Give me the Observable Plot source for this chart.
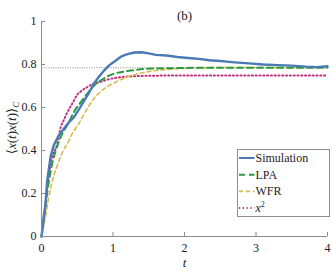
<!DOCTYPE html>
<html>
<head>
<meta charset="utf-8">
<script src="https://cdn.jsdelivr.net/npm/d3@7"></script>
<script src="https://cdn.jsdelivr.net/npm/@observablehq/plot@0.6"></script>
<style>
  html, body { margin: 0; padding: 0; background: #fff; }
  #chart svg { display: block; }
</style>
</head>
<body>
<div id="chart"></div>
<script>
// ---- data ----
const title = "(b)";
const xTicks = [0, 1, 2, 3, 4];
const yTicks = [0, 0.2, 0.4, 0.6, 0.8, 1];
const refLevel = 0.785;

const simT = [0, 0.03, 0.056, 0.08, 0.126, 0.17, 0.24, 0.3, 0.38, 0.455, 0.53, 0.6, 0.67, 0.73, 0.8, 0.87, 0.95, 1.04, 1.12, 1.2, 1.3, 1.4, 1.5, 1.6, 1.75, 1.9, 2.05, 2.2, 2.35, 2.5, 2.7, 2.9, 3.1, 3.3, 3.5, 3.7, 3.85, 4.0];
const simV = [0, 0.09, 0.152, 0.26, 0.369, 0.423, 0.47, 0.495, 0.53, 0.555, 0.595, 0.633, 0.672, 0.71, 0.742, 0.77, 0.797, 0.819, 0.838, 0.848, 0.856, 0.857, 0.852, 0.845, 0.842, 0.835, 0.83, 0.826, 0.82, 0.816, 0.81, 0.805, 0.8, 0.797, 0.795, 0.79, 0.788, 0.792];

const lpaT = [0, 0.05, 0.1, 0.15, 0.2, 0.265, 0.38, 0.455, 0.55, 0.64, 0.73, 0.83, 0.92, 1.01, 1.11, 1.25, 1.47, 1.7, 2.0, 2.5, 3, 3.5, 4];
const lpaV = [0, 0.13, 0.25, 0.34, 0.4, 0.46, 0.53, 0.58, 0.625, 0.664, 0.7, 0.726, 0.744, 0.757, 0.764, 0.772, 0.78, 0.782, 0.784, 0.785, 0.785, 0.785, 0.785];

const wfrT = [0, 0.05, 0.1, 0.17, 0.21, 0.29, 0.385, 0.43, 0.52, 0.64, 0.73, 0.83, 0.92, 1.02, 1.11, 1.25, 1.42, 1.6, 1.8, 2.0, 2.3, 2.7, 3.2, 4];
const wfrV = [0, 0.08, 0.18, 0.28, 0.32, 0.39, 0.447, 0.478, 0.524, 0.595, 0.64, 0.675, 0.697, 0.715, 0.73, 0.748, 0.762, 0.772, 0.778, 0.782, 0.785, 0.786, 0.786, 0.786];

const x2T = [0, 0.033, 0.08, 0.15, 0.22, 0.27, 0.31, 0.35, 0.455, 0.49, 0.55, 0.64, 0.69, 0.83, 0.96, 1.11, 1.33, 1.6, 2, 3, 4];
const x2V = [0, 0.074, 0.23, 0.37, 0.43, 0.51, 0.54, 0.57, 0.633, 0.655, 0.675, 0.695, 0.705, 0.72, 0.733, 0.741, 0.746, 0.748, 0.749, 0.749, 0.749];

const seriesNames = ["Simulation", "LPA", "WFR", "x²"];

// ---- build tables ----
const toRows = (ts, vs) => ts.map((t, i) => ({t, v: vs[i]}));
const sim = toRows(simT, simV);
const lpa = toRows(lpaT, lpaV);
const wfr = toRows(wfrT, wfrV);
const x2 = toRows(x2T, x2V);

const styles = [
  {stroke: "#4a7ab6", strokeWidth: 2.4, dash: null, curve: "linear"},
  {stroke: "#2b9a3f", strokeWidth: 2, dash: "6,4", curve: "monotone-x"},
  {stroke: "#d8bb4c", strokeWidth: 1.6, dash: "4,3", curve: "monotone-x"},
  {stroke: "#c2317f", strokeWidth: 2, dash: "1.2,2.6", curve: "monotone-x"}
];
const datasets = [sim, lpa, wfr, x2];

const font = "'Liberation Serif', 'DejaVu Serif', serif";
const W = 332, H = 272, mL = 41, mR = 5, mT = 21, mB = 36;
const tickLen = 4;

const lineMarks = [3, 2, 1, 0].map(i => Plot.line(datasets[i], {
  x: "t", y: "v", stroke: styles[i].stroke, strokeWidth: styles[i].strokeWidth,
  strokeDasharray: styles[i].dash, curve: styles[i].curve
}));

const chart = Plot.plot({
  width: W,
  height: H,
  marginLeft: mL,
  marginRight: mR,
  marginTop: mT,
  marginBottom: mB,
  style: {fontFamily: font, fontSize: "12px", background: "#fff", color: "#222"},
  x: {domain: [0, 4]},
  y: {domain: [0, 1]},
  marks: [
    Plot.ruleY([refLevel], {stroke: "#9a9a9a", strokeWidth: 1.2, strokeDasharray: "1.2,1.2"}),
    ...lineMarks,
    Plot.ruleX([0], {stroke: "#8c8c8c"}),
    Plot.ruleY([0], {stroke: "#8c8c8c"}),
    // inward tick marks
    Plot.tickX(xTicks, {x: d => d, stroke: "#8c8c8c", insetTop: (H - mT - mB) - tickLen}),
    Plot.tickY(yTicks, {y: d => d, stroke: "#8c8c8c", insetRight: (W - mL - mR) - tickLen}),
    Plot.axisX(xTicks, {tickSize: 0, tickPadding: 7, label: null, tickFormat: d => String(d), fill: "#222"}),
    Plot.axisY(yTicks, {tickSize: 0, tickPadding: 5, label: null, tickFormat: d => String(d), fill: "#222"}),
    Plot.text([title], {frameAnchor: "top", dy: -11, fontSize: 13, fill: "#222"}),
    Plot.text(["t"], {frameAnchor: "bottom", dy: 30, fontStyle: "italic", fontSize: 13, fill: "#222"})
  ]
});

document.getElementById("chart").appendChild(chart);

// ---- y label with subscript ----
const svg = d3.select(chart);
const yl = svg.append("text")
  .attr("transform", "translate(16,128) rotate(-90)")
  .attr("text-anchor", "middle")
  .attr("font-family", font)
  .attr("font-size", 13)
  .attr("fill", "#222");
yl.append("tspan").text("⟨");
yl.append("tspan").attr("font-style", "italic").text("x");
yl.append("tspan").text("(");
yl.append("tspan").attr("font-style", "italic").text("t");
yl.append("tspan").text(")");
yl.append("tspan").attr("font-style", "italic").text("x");
yl.append("tspan").text("(");
yl.append("tspan").attr("font-style", "italic").text("t");
yl.append("tspan").text(")⟩");
yl.append("tspan").attr("font-style", "italic").attr("font-size", 9).attr("dy", 3).text("C");

// ---- legend ----
const lg = svg.append("g").attr("font-family", font).attr("font-size", 12).attr("text-anchor", "start");
lg.append("rect").attr("x", 237.5).attr("y", 149.5).attr("width", 92).attr("height", 67)
  .attr("fill", "#fff").attr("stroke", "#8c8c8c").attr("stroke-width", 1);
seriesNames.forEach((name, i) => {
  const yy = 158 + i * 16.7;
  lg.append("line").attr("x1", 239).attr("x2", 254.5).attr("y1", yy).attr("y2", yy)
    .attr("stroke", styles[i].stroke).attr("stroke-width", Math.min(styles[i].strokeWidth, 2))
    .attr("stroke-dasharray", styles[i].dash);
  const tx = lg.append("text").attr("x", 255.5).attr("y", yy + 4).attr("fill", "#222")
    .attr("text-anchor", "start");
  if (name === "x²") {
    tx.append("tspan").attr("font-style", "italic").text("x");
    tx.append("tspan").attr("font-size", 8).attr("dy", -5).text("2");
  } else {
    tx.text(name);
  }
});
</script>
</body>
</html>
